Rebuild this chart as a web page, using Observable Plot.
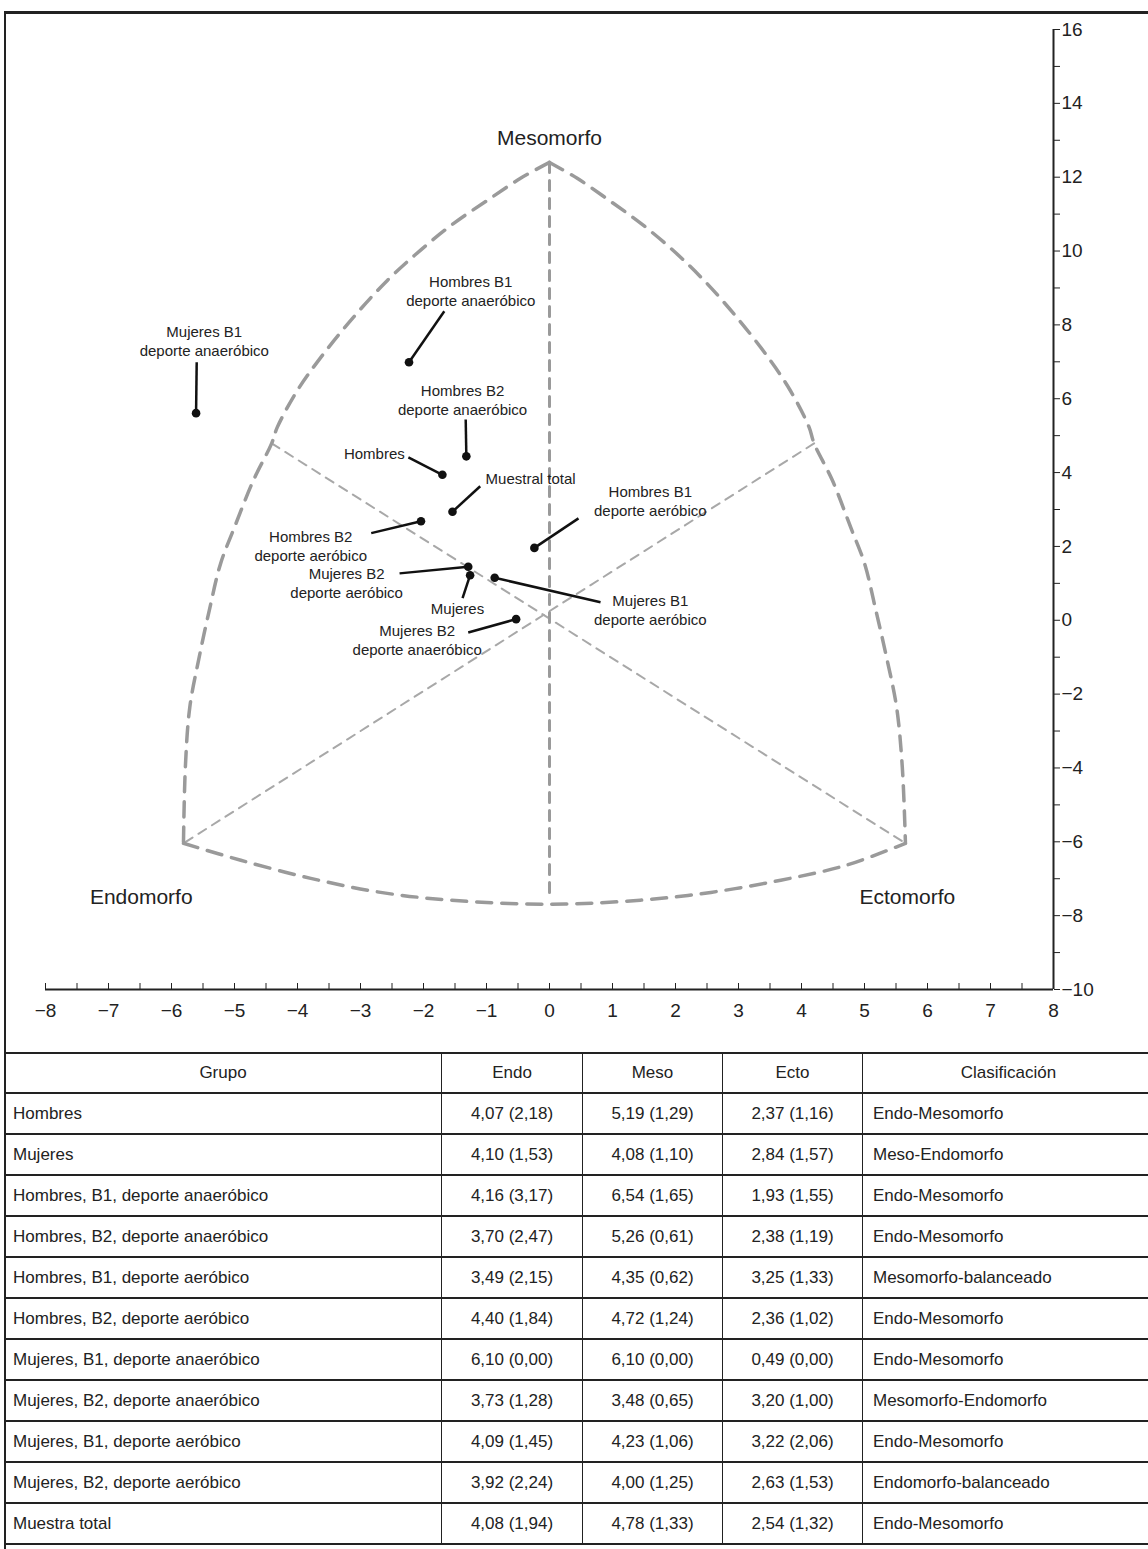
<!DOCTYPE html>
<html>
<head>
<meta charset="utf-8">
<script src="https://cdn.jsdelivr.net/npm/d3@7"></script>
<script src="https://cdn.jsdelivr.net/npm/@observablehq/plot@0.6"></script>
<style>
  body { margin: 0; background: #fff; }
  #wrap { position: relative; width: 1148px; height: 1549px; overflow: hidden; background: #fff;
          font-family: "Liberation Sans", Arial, sans-serif; color: #222; }
  #chart { position: absolute; left: 0; top: 0; }
  .frame { position: absolute; background: #222; }
  table { position: absolute; left: 4px; top: 1052px; border-collapse: collapse; table-layout: fixed;
          font-size: 17px; color: #222; }
  th, td { border-top: 2px solid #222; border-bottom: 2px solid #222; border-left: 1.5px solid #222;
           border-right: 1.5px solid #222; padding: 0; font-weight: normal; white-space: nowrap; }
  tr.head th { height: 38px; text-align: center; }
  tbody td { height: 39px; }
  td.g { text-align: left; padding-left: 8px; }
  td.n { text-align: center; }
  td.c { text-align: left; padding-left: 10px; }
</style>
</head>
<body>
<div id="wrap">
  <div id="chart"></div>
</div>
<script>
// ---------------- data ----------------
const groups = [
  "Hombres", "Mujeres",
  "Hombres, B1, deporte anaeróbico", "Hombres, B2, deporte anaeróbico",
  "Hombres, B1, deporte aeróbico", "Hombres, B2, deporte aeróbico",
  "Mujeres, B1, deporte anaeróbico", "Mujeres, B2, deporte anaeróbico",
  "Mujeres, B1, deporte aeróbico", "Mujeres, B2, deporte aeróbico",
  "Muestra total"
];
const chartLabels = [
  "Hombres", "Mujeres",
  "Hombres B1\ndeporte anaeróbico", "Hombres B2\ndeporte anaeróbico",
  "Hombres B1\ndeporte aeróbico", "Hombres B2\ndeporte aeróbico",
  "Mujeres B1\ndeporte anaeróbico", "Mujeres B2\ndeporte anaeróbico",
  "Mujeres B1\ndeporte aeróbico", "Mujeres B2\ndeporte aeróbico",
  "Muestral total"
];
const endo   = [4.07, 4.10, 4.16, 3.70, 3.49, 4.40, 6.10, 3.73, 4.09, 3.92, 4.08];
const endoSD = [2.18, 1.53, 3.17, 2.47, 2.15, 1.84, 0.00, 1.28, 1.45, 2.24, 1.94];
const meso   = [5.19, 4.08, 6.54, 5.26, 4.35, 4.72, 6.10, 3.48, 4.23, 4.00, 4.78];
const mesoSD = [1.29, 1.10, 1.65, 0.61, 0.62, 1.24, 0.00, 0.65, 1.06, 1.25, 1.33];
const ecto   = [2.37, 2.84, 1.93, 2.38, 3.25, 2.36, 0.49, 3.20, 3.22, 2.63, 2.54];
const ectoSD = [1.16, 1.57, 1.55, 1.19, 1.33, 1.02, 0.00, 1.00, 2.06, 1.53, 1.32];
const clasificacion = [
  "Endo-Mesomorfo", "Meso-Endomorfo", "Endo-Mesomorfo", "Endo-Mesomorfo",
  "Mesomorfo-balanceado", "Endo-Mesomorfo", "Endo-Mesomorfo", "Mesomorfo-Endomorfo",
  "Endo-Mesomorfo", "Endomorfo-balanceado", "Endo-Mesomorfo"
];
// annotation anchors (somatochart units)
const labelX  = [-2.78, -1.46, -1.25, -1.38, 1.60, -3.79, -5.48, -2.10, 1.60, -3.22, -0.30];
const labelY  = [ 4.55,  0.35,  8.94,  5.99, 3.25,  2.03,  7.58, -0.51, 0.30,  1.03,  3.85];
const leaderX = [-2.24, -1.38, -1.67, -1.33, 0.46, -2.83, -5.60, -1.29, 0.81, -2.38, -1.10];
const leaderY = [ 4.41,  0.60,  8.37,  5.44, 2.76,  2.36,  6.99, -0.33, 0.49,  1.27,  3.63];

// somatochart outline
const sideArcY   = [12.4, 11.97, 11.38, 10.75, 10.02, 9.21, 8.21, 7.12, 6.23, 5.23, 4.79, 3.79, 2.52, 1.54, 0.27, -1.08, -2.36, -3.98, -6.04];
const leftArcX   = [0, -0.46, -0.98, -1.52, -2.05, -2.57, -3.11, -3.63, -4.00, -4.32, -4.41, -4.70, -5.00, -5.22, -5.40, -5.57, -5.71, -5.78, -5.81];
const rightArcX  = [0, 0.44, 0.94, 1.45, 1.96, 2.45, 2.97, 3.47, 3.82, 4.12, 4.20, 4.49, 4.78, 5.00, 5.18, 5.36, 5.51, 5.60, 5.65];
const bottomArcX = [-5.81, -4.90, -3.79, -2.68, -1.57, 0, 1.44, 2.56, 3.67, 4.70, 5.65];
const bottomArcY = [-6.04, -6.50, -6.99, -7.37, -7.58, -7.69, -7.58, -7.37, -7.04, -6.64, -6.04];
const centralX = [0, 0];
const centralY = [12.4, -7.5];
const diagA_X = [-4.41, 5.65], diagA_Y = [4.79, -6.04];
const diagB_X = [4.20, -5.81], diagB_Y = [4.79, -6.04];

const vertexNames = ["Mesomorfo", "Endomorfo", "Ectomorfo"];
const vertexX = [0, -6.48, 5.68];
const vertexY = [13.05, -7.5, -7.5];

const xTicksMajor = d3.range(-8, 9, 1);
const xTicksMinor = d3.range(-8, 8.01, 0.5);
const yTicks = d3.range(-10, 17, 1);

// ---------------- derived tables ----------------
const pts = groups.map((g, i) => ({
  g, label: chartLabels[i],
  x: ecto[i] - endo[i],
  y: 2 * meso[i] - endo[i] - ecto[i],
  lx: labelX[i], ly: labelY[i], ax: leaderX[i], ay: leaderY[i]
}));
const outline = [
  ...leftArcX.map((x, i) => ({arc: "L", x, y: sideArcY[i]})),
  ...rightArcX.map((x, i) => ({arc: "R", x, y: sideArcY[i]})),
  ...bottomArcX.map((x, i) => ({arc: "B", x, y: bottomArcY[i]}))
];
const diagonals = [
  ...diagA_X.map((x, i) => ({z: "A", x, y: diagA_Y[i]})),
  ...diagB_X.map((x, i) => ({z: "B", x, y: diagB_Y[i]}))
];
const central = centralX.map((x, i) => ({x, y: centralY[i]}));
const vertices = vertexNames.map((n, i) => ({n, x: vertexX[i], y: vertexY[i]}));

const FONT = "Liberation Sans, Arial, Helvetica, sans-serif";
const fmtTick = d => d3.format("d")(d);

const plot = Plot.plot({
  width: 1148,
  height: 1052,
  marginLeft: 45,
  marginRight: 95,
  marginTop: 29,
  marginBottom: 63,
  x: {domain: [-8, 8], label: null},
  y: {domain: [-10, 16], label: null},
  style: {fontFamily: FONT, background: "transparent", color: "#222"},
  marks: [
    // outline & inner guides
    Plot.line(diagonals, {x: "x", y: "y", z: "z", stroke: "#a8a8a8", strokeWidth: 2, strokeDasharray: "9,7"}),
    Plot.line(central, {x: "x", y: "y", stroke: "#9a9a9a", strokeWidth: 3, strokeDasharray: "10,8"}),
    Plot.line(outline, {x: "x", y: "y", z: "arc", curve: "catmull-rom", stroke: "#9a9a9a", strokeWidth: 3.5, strokeDasharray: "15,10"}),
    // vertex names
    Plot.text(vertices, {x: "x", y: "y", text: "n", fontSize: 21, fill: "#222"}),
    // axes
    Plot.axisX({ticks: xTicksMinor, tickSize: -6, tickFormat: () => "", label: null, stroke: "#222"}),
    Plot.axisX({ticks: xTicksMajor, tickSize: 0, tickPadding: 14, tickFormat: fmtTick, fontSize: 19, label: null}),
    Plot.axisY({anchor: "right", ticks: yTicks, tickSize: 6, tickPadding: 2, fontSize: 19, label: null,
                tickFormat: d => (d % 2 === 0 ? fmtTick(d) : ""), stroke: "#222"}),
    Plot.ruleY([-10], {stroke: "#222", strokeWidth: 2}),
    Plot.ruleX([8], {stroke: "#222", strokeWidth: 2}),
    // leaders, points, labels
    Plot.link(pts, {x1: "ax", y1: "ay", x2: "x", y2: "y", stroke: "#111", strokeWidth: 2.5}),
    Plot.dot(pts, {x: "x", y: "y", r: 4.3, fill: "#111", stroke: null}),
    Plot.text(pts, {x: "lx", y: "ly", text: "label", fontSize: 15, lineHeight: 1.3, fill: "#222"})
  ]
});
document.getElementById("chart").appendChild(plot);

// frame lines
const wrap = document.getElementById("wrap");
function frame(l, t, w, h) {
  const d = document.createElement("div");
  d.className = "frame";
  Object.assign(d.style, {left: l + "px", top: t + "px", width: w + "px", height: h + "px"});
  wrap.appendChild(d);
}
frame(4, 11, 1150, 2.5);
frame(4, 11, 2, 1540);

// table
const fmt = v => d3.format(".2f")(v).replace(".", ",");
const table = document.createElement("table");
const colW = [437, 141, 140, 140, 292];
const cg = document.createElement("colgroup");
colW.forEach(w => { const c = document.createElement("col"); c.style.width = w + "px"; cg.appendChild(c); });
table.appendChild(cg);
table.style.width = d3.sum(colW) + "px";
const thead = document.createElement("thead");
const hr = document.createElement("tr"); hr.className = "head";
["Grupo", "Endo", "Meso", "Ecto", "Clasificación"].forEach(h => {
  const th = document.createElement("th"); th.textContent = h; hr.appendChild(th);
});
thead.appendChild(hr); table.appendChild(thead);
const tbody = document.createElement("tbody");
groups.forEach((g, i) => {
  const tr = document.createElement("tr");
  const cells = [
    [g, "g"],
    [`${fmt(endo[i])} (${fmt(endoSD[i])})`, "n"],
    [`${fmt(meso[i])} (${fmt(mesoSD[i])})`, "n"],
    [`${fmt(ecto[i])} (${fmt(ectoSD[i])})`, "n"],
    [clasificacion[i], "c"]
  ];
  cells.forEach(([t, c]) => { const td = document.createElement("td"); td.textContent = t; td.className = c; tr.appendChild(td); });
  tbody.appendChild(tr);
});
table.appendChild(tbody);
wrap.appendChild(table);
</script>
</body>
</html>
